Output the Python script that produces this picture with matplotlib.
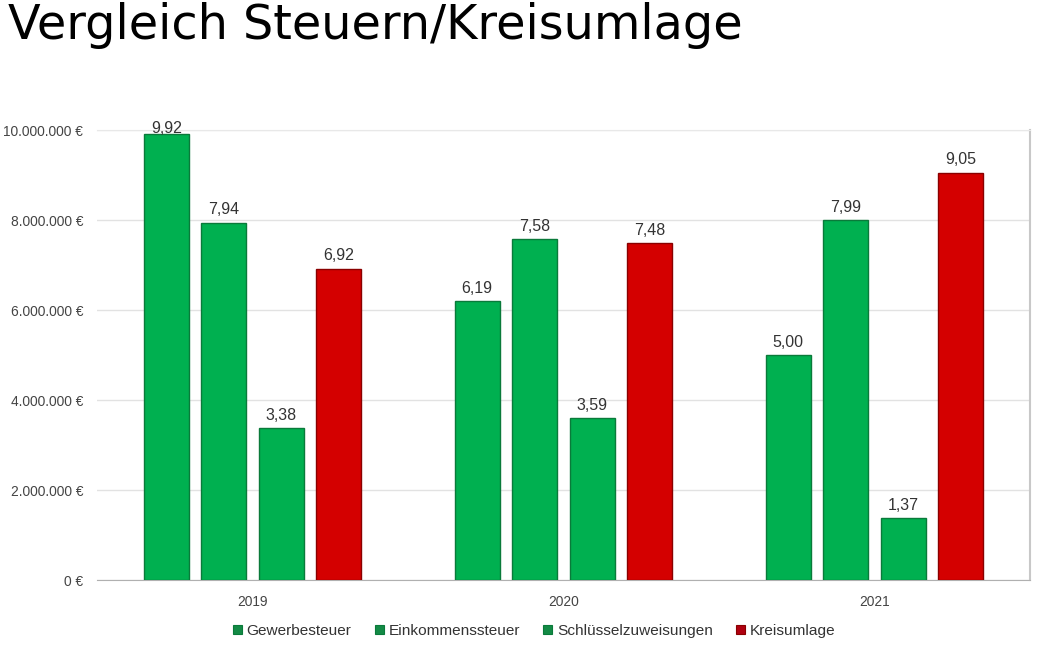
import numpy as np
import matplotlib.pyplot as plt
from matplotlib.ticker import FuncFormatter

plt.rcParams['font.family'] = ['Liberation Sans', 'DejaVu Sans']

years = ['2019', '2020', '2021']
gewerbesteuer = [9.92e6, 6.19e6, 5.00e6]
einkommenssteuer = [7.94e6, 7.58e6, 7.99e6]
schluesselzuweisungen = [3.38e6, 3.59e6, 1.37e6]
kreisumlage = [6.92e6, 7.48e6, 9.05e6]

series = [
    ('Gewerbesteuer', gewerbesteuer, '#00b050', '#0a7a3a', '#138a45'),
    ('Einkommenssteuer', einkommenssteuer, '#00b050', '#0a7a3a', '#138a45'),
    ('Schlüsselzuweisungen', schluesselzuweisungen, '#00b050', '#0a7a3a', '#138a45'),
    ('Kreisumlage', kreisumlage, '#d40000', '#8a0000', '#b00010'),
]

fig = plt.figure(figsize=(10.44, 6.53), dpi=100)
ax = fig.add_axes([97/1044, 1-580/653, 933/1044, 450/653])

x = np.arange(len(years))
w = 0.145
step = 0.185
handles = []
for i, (name, vals, col, edge, legcol) in enumerate(series):
    pos = x + (i - 1.5) * step
    bars = ax.bar(pos, vals, w, color=col, edgecolor=edge, linewidth=1.0,
                  zorder=3)
    handles.append(plt.Rectangle((0, 0), 1, 1, facecolor=legcol,
                                 edgecolor=edge, linewidth=0.8, label=name))
    for b, v in zip(bars, vals):
        # the top label stays inside the plot area, as in the original
        ty = min(v + 0.12e6, 9.86e6)
        ax.text(b.get_x() + b.get_width()/2, ty,
                f'{v/1e6:.2f}'.replace('.', ','),
                ha='center', va='bottom', fontsize=11.5, color='#333333', zorder=4)

ax.set_xlim(-0.5, 2.5)
ax.set_ylim(0, 10e6)
ax.set_yticks(np.arange(0, 10.1e6, 2e6))
ax.yaxis.set_major_formatter(FuncFormatter(
    lambda v, p: f'{int(v):,}'.replace(',', '.') + ' €'))
ax.set_xticks(x)
ax.set_xticklabels(years)
ax.tick_params(axis='both', length=0, labelsize=9.9, colors='#444444')
ax.tick_params(axis='x', pad=11)
ax.tick_params(axis='y', pad=10)
ax.grid(axis='y', color='#e2e2e2', linewidth=1, zorder=0)
ax.spines['left'].set_visible(False)
ax.spines['top'].set_color('#e8e8e8')
ax.spines['right'].set_color('#c8c8c8')
ax.spines['right'].set_linewidth(1.5)
ax.spines['bottom'].set_color('#b0b0b0')

fig.text(8/1044, 1-2/653, 'Vergleich Steuern/Kreisumlage', fontsize=34.4,
         family='DejaVu Sans', ha='left', va='top', color='black')

leg = fig.legend(handles=handles, loc='center', bbox_to_anchor=(534/1044, 1-631/653),
                 ncol=4, frameon=False, fontsize=11.1, handlelength=0.6,
                 handleheight=0.6, handletextpad=0.3, columnspacing=1.5)
for t in leg.get_texts():
    t.set_color('#333333')

fig.savefig('out.png', dpi=100)
